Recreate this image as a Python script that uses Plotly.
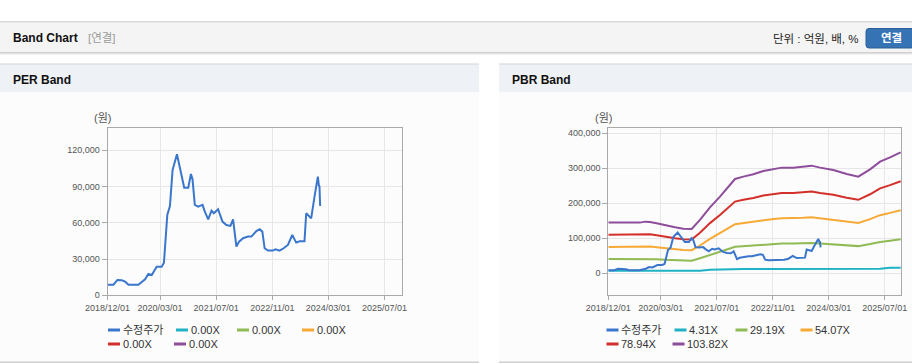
import plotly.graph_objects as go

# ---------------- data ----------------
price_name = "수정주가"
price_dates = [
    "2018-12-01", "2019-01-22", "2019-02-25", "2019-04-04", "2019-05-03", "2019-06-01",
    "2019-08-26", "2019-09-24", "2019-10-23", "2019-11-21", "2019-12-20", "2020-02-01",
    "2020-03-15", "2020-04-04", "2020-05-03", "2020-05-26", "2020-06-18", "2020-07-26",
    "2020-08-12", "2020-09-04", "2020-09-27", "2020-11-01", "2020-11-24", "2020-12-08",
    "2020-12-28", "2021-01-26", "2021-03-05", "2021-03-25", "2021-04-23", "2021-05-22",
    "2021-06-11", "2021-07-18", "2021-08-25", "2021-09-28", "2021-11-02", "2021-11-25",
    "2021-12-24", "2022-01-16", "2022-02-20", "2022-04-04", "2022-05-03", "2022-06-15",
    "2022-07-14", "2022-08-06", "2022-08-26", "2022-09-24", "2022-11-06", "2022-11-29",
    "2023-01-03", "2023-02-07", "2023-03-16", "2023-04-23", "2023-05-27", "2023-06-25",
    "2023-08-07", "2023-08-22", "2023-09-19", "2023-10-04", "2023-11-02", "2023-12-01",
    "2023-12-09", "2023-12-15", "2023-12-21",
]
price_values = [
    8800, 8800, 12700, 12400, 11300, 8800,
    8800, 11000, 13200, 17700, 16800, 23700,
    23700, 27000, 66500, 73900, 103700, 116700,
    109000, 99600, 89100, 89100, 100400, 96000,
    74800, 73400, 74800, 69200, 62900, 70100,
    67900, 71200, 61000, 58200, 57400, 62900,
    40300, 44400, 47200, 48600, 48600, 53200,
    54600, 52700, 38900, 37000, 37000, 38100,
    37000, 38900, 41700, 49900, 43600, 44700,
    44700, 67900, 65100, 63700, 81700, 98200,
    91300, 90000, 73900,
]

# PER band: all multiples 0.00X (no visible lines)
per_band_names = ["0.00X", "0.00X", "0.00X", "0.00X", "0.00X"]

# PBR band
pbr_dates = [
    "2018-12-01", "2019-09-02", "2019-10-16", "2019-11-28", "2020-01-25", "2020-04-07",
    "2020-07-03", "2020-09-13", "2020-11-25", "2021-02-05", "2021-05-03", "2021-07-29",
    "2021-10-10", "2021-12-07", "2022-02-17", "2022-05-15", "2022-08-10", "2022-10-22",
    "2023-01-17", "2023-04-28", "2023-07-24", "2023-10-04", "2023-12-16", "2024-04-10",
    "2024-08-04", "2024-11-13", "2025-02-23", "2025-05-21", "2025-08-16", "2025-11-16",
]
pbr_band_names = ["4.31X", "29.19X", "54.07X", "78.94X", "103.82X"]
band_431 = [
    7400, 7400, 7400, 7400, 7400, 7400, 7400, 7400, 7400, 7400,
    10000, 11000, 12400, 12400, 12400, 12400, 12400, 12400, 12400, 12400,
    12400, 12400, 12400, 12400, 12400, 12400, 12400, 12800, 16000, 16200,
]
band_2919 = [
    40710, 40710, 41500, 41250, 40180, 38550, 36940, 35880, 35620, 42850,
    53030, 61570, 69620, 75770, 77660, 79540, 82210, 83530, 84880, 84880,
    85700, 86480, 84880, 83000, 79790, 77660, 83530, 89690, 93180, 97200,
]
band_5407 = [
    75410, 75410, 76870, 76400, 74420, 71400, 68430, 66460, 65990, 79370,
    98220, 114060, 128950, 140360, 143850, 147340, 152290, 154730, 157230, 157230,
    158740, 160200, 157230, 153740, 147810, 143850, 154730, 166140, 172600, 180040,
]
band_7894 = [
    110100, 110100, 112230, 111540, 108650, 104240, 99910, 97020, 96340, 115880,
    143400, 166520, 188260, 204910, 210010, 215100, 222330, 225900, 229550, 229550,
    231750, 233880, 229550, 224450, 215790, 210010, 225900, 242550, 251980, 262850,
]
band_10382 = [
    144800, 144800, 147600, 146700, 142900, 137100, 131400, 127600, 126700, 152400,
    188600, 219000, 247600, 269500, 276200, 282900, 292400, 297100, 301900, 301900,
    304800, 307600, 301900, 295200, 283800, 276200, 297100, 319000, 331400, 345700,
]

x_tick_vals = ["2018-12-01", "2020-03-01", "2021-07-01", "2022-11-01", "2024-03-01", "2025-07-01"]
x_tick_text = ["2018/12/01", "2020/03/01", "2021/07/01", "2022/11/01", "2024/03/01", "2025/07/01"]
per_y_ticks = [0, 30000, 60000, 90000, 120000]
pbr_y_ticks = [0, 100000, 200000, 300000, 400000]

# ---------------- styling ----------------
W, H = 912, 364
def px(x):
    return x / W
def py(y):
    return 1 - y / H

C_PRICE = "#3a76cc"
BAND_COLORS = ["#1fb2c4", "#8fba54", "#f6a935", "#d3302b", "#8e4d9b"]
AX_LINE = "#a9a9a9"
GRID = "#e6e6e6"
TICK_FONT = dict(family="Liberation Sans, Arial, sans-serif", size=9, color="#555555")
KFONT = "Liberation Sans, Noto Sans CJK KR, sans-serif"

fig = go.Figure()

# PER chart traces
fig.add_trace(go.Scatter(x=price_dates, y=price_values, name=price_name, mode="lines",
                         line=dict(color=C_PRICE, width=2), xaxis="x", yaxis="y", showlegend=False))
for nm, col in zip(per_band_names, BAND_COLORS):
    fig.add_trace(go.Scatter(x=[], y=[], name=nm, mode="lines", line=dict(color=col, width=2),
                             xaxis="x", yaxis="y", showlegend=False))

# PBR chart traces
for nm, col, vals in zip(pbr_band_names, BAND_COLORS,
                         [band_431, band_2919, band_5407, band_7894, band_10382]):
    fig.add_trace(go.Scatter(x=pbr_dates, y=vals, name=nm, mode="lines",
                             line=dict(color=col, width=2), xaxis="x2", yaxis="y2", showlegend=False))
fig.add_trace(go.Scatter(x=price_dates, y=price_values, name=price_name, mode="lines",
                         line=dict(color=C_PRICE, width=2), xaxis="x2", yaxis="y2", showlegend=False))

ydom = [py(295.3), py(128.3)]
common_x = dict(type="date", tickvals=x_tick_vals, ticktext=x_tick_text, showgrid=True,
                gridcolor=GRID, showline=True, linecolor=AX_LINE, mirror=True, ticks="outside",
                ticklen=4, tickcolor=AX_LINE, tickfont=TICK_FONT, zeroline=False, fixedrange=True,
                automargin=False)
common_y = dict(showgrid=True, gridcolor=GRID, showline=True, linecolor=AX_LINE, mirror=True,
                ticks="outside", ticklen=5, tickcolor=AX_LINE, tickfont=TICK_FONT, zeroline=False,
                tickformat=",", fixedrange=True, automargin=False)

fig.update_layout(
    template="none",
    width=W, height=H, margin=dict(l=0, r=0, t=0, b=0, pad=0, autoexpand=False),
    paper_bgcolor="#ffffff", plot_bgcolor="#ffffff", showlegend=False,
    xaxis=dict(domain=[px(107.5), px(402.3)], range=["2018-12-01", "2025-12-03"], anchor="y", **common_x),
    yaxis=dict(domain=ydom, range=[0, 138200], tickvals=per_y_ticks, anchor="x", **common_y),
    xaxis2=dict(domain=[px(608.3), px(901)], range=["2018-12-01", "2025-11-19"], anchor="y2", **common_x),
    yaxis2=dict(domain=ydom, range=[-62857, 414286], tickvals=pbr_y_ticks, anchor="x2", **common_y),
)

shapes = []
def rect(x0, y0, x1, y1, color):
    shapes.append(dict(type="rect", xref="paper", yref="paper", x0=px(x0), x1=px(x1),
                       y0=py(y1), y1=py(y0), fillcolor=color, line=dict(width=0), layer="below"))

# header band
rect(0, 21.5, 912, 22.5, "#b3b3b3")
rect(0, 22.5, 912, 52, "#f4f4f4")
rect(0, 52, 912, 53, "#cfcfcf")
rect(0, 53, 912, 54, "#e2e2e2")
rect(0, 54, 912, 55, "#f1f1f1")
# panels
for x0, x1 in [(0, 479), (499, 912)]:
    rect(x0, 63.5, x1, 64.8, "#d3d3d3")
    rect(x0, 64.8, x1, 92.5, "#eef1f6")
    rect(x0, 92.5, x1, 361.5, "#fcfcfc")
    rect(x0, 361.5, x1, 363, "#d0d0d0")

# button (rounded)
bx0, by0, bx1, by1, r = 866, 28.5, 914, 48, 3
path = (f"M {px(bx0 + r)},{py(by0)} L {px(bx1 - r)},{py(by0)} Q {px(bx1)},{py(by0)} {px(bx1)},{py(by0 + r)} "
        f"L {px(bx1)},{py(by1 - r)} Q {px(bx1)},{py(by1)} {px(bx1 - r)},{py(by1)} "
        f"L {px(bx0 + r)},{py(by1)} Q {px(bx0)},{py(by1)} {px(bx0)},{py(by1 - r)} "
        f"L {px(bx0)},{py(by0 + r)} Q {px(bx0)},{py(by0)} {px(bx0 + r)},{py(by0)} Z")
shapes.append(dict(type="path", xref="paper", yref="paper", path=path, fillcolor="#3673b4",
                   line=dict(color="#2a5f98", width=1), layer="below"))

annotations = []
def text(x, y, s, size=12, color="#111111", bold=False, anchor="left", family=KFONT):
    annotations.append(dict(xref="paper", yref="paper", x=px(x), y=py(y), xanchor=anchor,
                            yanchor="middle", showarrow=False,
                            text=f"<b>{s}</b>" if bold else s,
                            font=dict(family=family, size=size, color=color)))

text(11, 38.5, "Band Chart", 12, "#111111", True)
text(86, 38.5, "[연결]", 11.5, "#9a9a9a")
text(861, 38.5, "단위 : 억원, 배, %", 11.5, "#222222", anchor="right")
text(891, 38.5, "연결", 11.5, "#ffffff", True, anchor="center")
text(11, 80, "PER Band", 12, "#111111", True)
text(510, 80, "PBR Band", 12, "#111111", True)
text(102, 118.5, "(원)", 11, "#555555", anchor="center")
text(603.5, 118.5, "(원)", 11, "#555555", anchor="center")

# manual legends
def legend(base_x, names, colors):
    offsets = [(0, 330), (68, 330), (129, 330), (194, 330), (0, 344), (66, 344)]
    for (dx, yy), nm, col in zip(offsets, names, colors):
        x0 = base_x + dx
        shapes.append(dict(type="line", xref="paper", yref="paper", x0=px(x0), x1=px(x0 + 12),
                           y0=py(yy), y1=py(yy), line=dict(color=col, width=3)))
        text(x0 + 12.5, yy, nm, 11, "#333333")

legend(108, [price_name] + per_band_names, [C_PRICE] + BAND_COLORS)
legend(606.5, [price_name] + pbr_band_names, [C_PRICE] + BAND_COLORS)

fig.update_layout(shapes=shapes, annotations=annotations)

fig.write_html("out.html", config={"displayModeBar": False},
               post_script="document.body.style.margin='0';document.body.style.overflow='hidden';")
